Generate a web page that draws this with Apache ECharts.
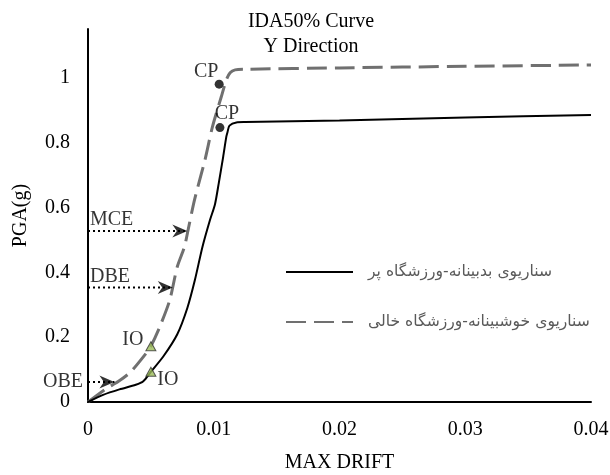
<!DOCTYPE html>
<html>
<head>
<meta charset="utf-8">
<script src="https://cdn.jsdelivr.net/npm/echarts@6/dist/echarts.min.js"></script>
<style>
  html, body { margin: 0; padding: 0; background: #fff; }
  #chart { width: 610px; height: 475px; }
</style>
</head>
<body>
<div id="chart"></div>
<script>
const pessimisticName = 'سناریوی بدبینانه-ورزشگاه پر';
const optimisticName = 'سناریوی خوشبینانه-ورزشگاه خالی';

// [max drift, PGA(g)]
const pessimistic = [
  [0, 0], [0.0012, 0.022], [0.0025, 0.039], [0.0038, 0.053], [0.0044, 0.064],
  [0.005, 0.093], [0.006, 0.141], [0.0071, 0.209], [0.0079, 0.29], [0.0085, 0.376],
  [0.0091, 0.478], [0.0097, 0.561], [0.0101, 0.61], [0.0104, 0.675], [0.01075, 0.756],
  [0.011, 0.818], [0.0111, 0.833], [0.01125, 0.852], [0.0118, 0.862], [0.0125, 0.863],
  [0.02, 0.868], [0.03, 0.877], [0.04, 0.885]
];
const optimistic = [
  [0, 0], [0.0014, 0.04], [0.0024, 0.063], [0.0034, 0.093], [0.0046, 0.149],
  [0.005, 0.172], [0.0057, 0.231], [0.0065, 0.314], [0.0071, 0.417], [0.00767, 0.478],
  [0.00793, 0.525], [0.00847, 0.623], [0.0093, 0.746], [0.0099, 0.849], [0.0106, 0.941],
  [0.011, 0.993], [0.0113, 1.015], [0.0117, 1.024], [0.0126, 1.026],
  [0.02, 1.03], [0.03, 1.035], [0.04, 1.039]
];

// performance points [drift, PGA, label]
const ioPoints = [[0.005, 0.172, 'IO'], [0.005, 0.093, 'IO']];
const cpPoints = [[0.01043, 0.98, 'CP'], [0.01049, 0.846, 'CP']];

// hazard levels [name, PGA, drift where the arrow meets the curve]
const hazardNames = ['OBE', 'DBE', 'MCE'];
const hazardPga = [0.062, 0.353, 0.527];
const hazardDrift = [0.0021, 0.00674, 0.0079];

const xTicks = [0, 0.01, 0.02, 0.03, 0.04];
const yTicks = [0, 0.2, 0.4, 0.6, 0.8, 1];

const serif = 'Liberation Serif';
const chart = echarts.init(document.getElementById('chart'));

// arrow head pointing right, tip at the symbol centre
const arrowHead = 'path://M-15,-6.5L0,0L-15,6.5L-10.5,0Z M14.9,-0.1L15,0L14.9,0.1Z';

const arrowLines = hazardNames.map((name, i) => ({
  type: 'line',
  data: [[0, hazardPga[i]], [hazardDrift[i], hazardPga[i]]],
  symbol: 'none',
  silent: true,
  z: 4,
  lineStyle: { color: '#000', width: 2, type: [2, 3] }
}));

const option = {
  backgroundColor: '#fff',
  animation: false,
  title: {
    text: 'IDA50% Curve\nY Direction',
    left: 311,
    top: 9,
    padding: 0,
    textAlign: 'center',
    textStyle: { fontFamily: serif, fontSize: 20, fontWeight: 'normal', color: '#000', lineHeight: 25 }
  },
  legend: {
    orient: 'vertical',
    left: 285,
    top: 262,
    padding: 0,
    itemWidth: 67,
    itemHeight: 20,
    itemGap: 30,
    data: [pessimisticName, optimisticName],
    itemStyle: { opacity: 0 },
    textStyle: {
      fontFamily: 'DejaVu Sans', fontSize: 15.6, color: '#595959',
      lineHeight: 12, padding: [8, 0, 0, 10]
    }
  },
  grid: { left: 88, right: 19, top: 29, bottom: 73, outerBoundsMode: 'none' },
  xAxis: {
    type: 'value',
    min: xTicks[0],
    max: xTicks[xTicks.length - 1],
    interval: xTicks[1] - xTicks[0],
    name: 'MAX DRIFT',
    nameLocation: 'middle',
    nameGap: 51,
    nameTextStyle: { fontFamily: serif, fontSize: 20, color: '#000' },
    axisLine: { lineStyle: { color: '#000', width: 2 } },
    axisTick: { show: false },
    splitLine: { show: false },
    axisLabel: { fontFamily: serif, fontSize: 20, color: '#000', margin: 18 }
  },
  yAxis: {
    type: 'value',
    min: yTicks[0],
    max: 1.15,
    interval: yTicks[1] - yTicks[0],
    name: 'PGA(g)',
    nameLocation: 'middle',
    nameGap: 57,
    nameTextStyle: { fontFamily: serif, fontSize: 20, color: '#000' },
    axisLine: { lineStyle: { color: '#000', width: 2 } },
    axisTick: { show: false },
    splitLine: { show: false },
    axisLabel: {
      fontFamily: serif, fontSize: 20, color: '#000', margin: 18,
      showMaxLabel: false,
      formatter: v => (v > yTicks[yTicks.length - 1] + 1e-6 ? '' : String(+v.toFixed(2)))
    }
  },
  series: [
    {
      name: pessimisticName,
      type: 'line',
      data: pessimistic,
      symbol: 'none',
      smooth: 0.25,
      z: 3,
      lineStyle: { color: '#000', width: 2 },
      itemStyle: { color: '#000' }
    },
    {
      name: optimisticName,
      type: 'line',
      data: optimistic,
      symbol: 'none',
      smooth: 0.25,
      z: 2,
      lineStyle: { color: '#707070', width: 3, type: [20, 8] },
      itemStyle: { color: '#707070' }
    },
    ...arrowLines,
    {
      type: 'scatter',
      data: hazardNames.map((n, i) => [hazardDrift[i], hazardPga[i]]),
      symbol: arrowHead,
      symbolSize: [30, 13],
      itemStyle: { color: '#000' },
      silent: true,
      z: 5
    },
    {
      // hazard labels at the y axis
      type: 'scatter',
      data: hazardNames.map((n, i) => ({
        value: [0, hazardPga[i], n],
        label: i === 0
          ? { position: 'left', distance: 5 }
          : { position: 'inside', align: 'left', offset: [2, -11] }
      })),
      symbolSize: 0,
      silent: true,
      z: 6,
      label: {
        show: true,
        formatter: p => p.value[2],
        fontFamily: serif, fontSize: 20, color: '#000'
      }
    },
    {
      type: 'scatter',
      data: cpPoints.map((p, i) => ({
        value: p,
        label: { offset: i === 0 ? [-13, -12] : [7, -14] }
      })),
      symbol: 'circle',
      symbolSize: 9,
      itemStyle: { color: '#000' },
      silent: true,
      z: 6,
      label: {
        show: true,
        position: 'inside',
        formatter: p => p.value[2],
        fontFamily: serif, fontSize: 20, color: '#000'
      }
    },
    {
      type: 'scatter',
      data: ioPoints.map((p, i) => ({
        value: p,
        label: { offset: i === 0 ? [-18, -6] : [17, 8] }
      })),
      symbol: 'triangle',
      symbolSize: [10, 9],
      itemStyle: { color: '#9bbb59', borderColor: '#333', borderWidth: 1 },
      silent: true,
      z: 6,
      label: {
        show: true,
        position: 'inside',
        formatter: p => p.value[2],
        fontFamily: serif, fontSize: 20, color: '#000'
      }
    }
  ]
};

chart.setOption(option);
</script>
</body>
</html>
